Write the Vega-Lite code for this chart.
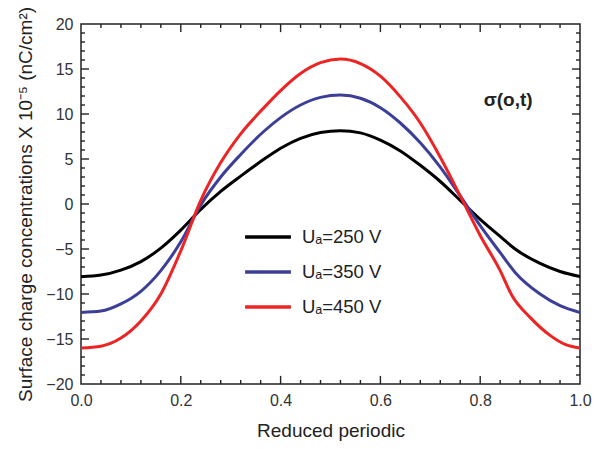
{
  "$schema": "https://vega.github.io/schema/vega-lite/v6.json",
  "width": 499,
  "height": 360,
  "autosize": {"type": "none"},
  "padding": {"left": 81, "top": 24, "right": 20, "bottom": 65},
  "background": "white",
  "config": {
    "font": "Liberation Sans",
    "view": {"stroke": "#222", "strokeWidth": 1.5},
    "axis": {"domain": false, "grid": false, "labelFont": "Liberation Sans", "titleFont": "Liberation Sans"}
  },
  "datasets": {
    "curves": [
      {"x": 0.00, "y": -8.07, "s": "Uₐ=250 V"},
      {"x": 0.04, "y": -7.9, "s": "Uₐ=250 V"},
      {"x": 0.08, "y": -7.35, "s": "Uₐ=250 V"},
      {"x": 0.12, "y": -6.4, "s": "Uₐ=250 V"},
      {"x": 0.16, "y": -4.9, "s": "Uₐ=250 V"},
      {"x": 0.20, "y": -2.9, "s": "Uₐ=250 V"},
      {"x": 0.24, "y": -0.6, "s": "Uₐ=250 V"},
      {"x": 0.28, "y": 1.4, "s": "Uₐ=250 V"},
      {"x": 0.32, "y": 3.1, "s": "Uₐ=250 V"},
      {"x": 0.37, "y": 5.1, "s": "Uₐ=250 V"},
      {"x": 0.40, "y": 6.2, "s": "Uₐ=250 V"},
      {"x": 0.44, "y": 7.3, "s": "Uₐ=250 V"},
      {"x": 0.48, "y": 7.95, "s": "Uₐ=250 V"},
      {"x": 0.52, "y": 8.15, "s": "Uₐ=250 V"},
      {"x": 0.56, "y": 7.9, "s": "Uₐ=250 V"},
      {"x": 0.60, "y": 7.1, "s": "Uₐ=250 V"},
      {"x": 0.64, "y": 5.9, "s": "Uₐ=250 V"},
      {"x": 0.68, "y": 4.3, "s": "Uₐ=250 V"},
      {"x": 0.72, "y": 2.5, "s": "Uₐ=250 V"},
      {"x": 0.76, "y": 0.4, "s": "Uₐ=250 V"},
      {"x": 0.80, "y": -1.7, "s": "Uₐ=250 V"},
      {"x": 0.84, "y": -3.6, "s": "Uₐ=250 V"},
      {"x": 0.87, "y": -5.0, "s": "Uₐ=250 V"},
      {"x": 0.92, "y": -6.6, "s": "Uₐ=250 V"},
      {"x": 0.96, "y": -7.5, "s": "Uₐ=250 V"},
      {"x": 1.00, "y": -8.05, "s": "Uₐ=250 V"},

      {"x": 0.00, "y": -12.05, "s": "Uₐ=350 V"},
      {"x": 0.04, "y": -11.9, "s": "Uₐ=350 V"},
      {"x": 0.08, "y": -11.1, "s": "Uₐ=350 V"},
      {"x": 0.12, "y": -9.7, "s": "Uₐ=350 V"},
      {"x": 0.16, "y": -7.4, "s": "Uₐ=350 V"},
      {"x": 0.20, "y": -4.2, "s": "Uₐ=350 V"},
      {"x": 0.24, "y": -0.1, "s": "Uₐ=350 V"},
      {"x": 0.28, "y": 3.0, "s": "Uₐ=350 V"},
      {"x": 0.32, "y": 5.5, "s": "Uₐ=350 V"},
      {"x": 0.365, "y": 8.0, "s": "Uₐ=350 V"},
      {"x": 0.40, "y": 9.6, "s": "Uₐ=350 V"},
      {"x": 0.44, "y": 11.0, "s": "Uₐ=350 V"},
      {"x": 0.48, "y": 11.85, "s": "Uₐ=350 V"},
      {"x": 0.52, "y": 12.1, "s": "Uₐ=350 V"},
      {"x": 0.56, "y": 11.75, "s": "Uₐ=350 V"},
      {"x": 0.60, "y": 10.7, "s": "Uₐ=350 V"},
      {"x": 0.64, "y": 9.0, "s": "Uₐ=350 V"},
      {"x": 0.68, "y": 6.8, "s": "Uₐ=350 V"},
      {"x": 0.72, "y": 4.1, "s": "Uₐ=350 V"},
      {"x": 0.76, "y": 0.9, "s": "Uₐ=350 V"},
      {"x": 0.80, "y": -2.4, "s": "Uₐ=350 V"},
      {"x": 0.84, "y": -5.4, "s": "Uₐ=350 V"},
      {"x": 0.87, "y": -7.6, "s": "Uₐ=350 V"},
      {"x": 0.92, "y": -10.0, "s": "Uₐ=350 V"},
      {"x": 0.96, "y": -11.3, "s": "Uₐ=350 V"},
      {"x": 1.00, "y": -12.05, "s": "Uₐ=350 V"},

      {"x": 0.00, "y": -16.0, "s": "Uₐ=450 V"},
      {"x": 0.04, "y": -15.8, "s": "Uₐ=450 V"},
      {"x": 0.08, "y": -14.9, "s": "Uₐ=450 V"},
      {"x": 0.12, "y": -13.0, "s": "Uₐ=450 V"},
      {"x": 0.16, "y": -10.0, "s": "Uₐ=450 V"},
      {"x": 0.20, "y": -5.2, "s": "Uₐ=450 V"},
      {"x": 0.24, "y": 0.4, "s": "Uₐ=450 V"},
      {"x": 0.28, "y": 4.6, "s": "Uₐ=450 V"},
      {"x": 0.32, "y": 7.8, "s": "Uₐ=450 V"},
      {"x": 0.365, "y": 10.6, "s": "Uₐ=450 V"},
      {"x": 0.40, "y": 12.6, "s": "Uₐ=450 V"},
      {"x": 0.44, "y": 14.5, "s": "Uₐ=450 V"},
      {"x": 0.48, "y": 15.7, "s": "Uₐ=450 V"},
      {"x": 0.52, "y": 16.1, "s": "Uₐ=450 V"},
      {"x": 0.56, "y": 15.6, "s": "Uₐ=450 V"},
      {"x": 0.60, "y": 14.2, "s": "Uₐ=450 V"},
      {"x": 0.64, "y": 11.9, "s": "Uₐ=450 V"},
      {"x": 0.68, "y": 9.0, "s": "Uₐ=450 V"},
      {"x": 0.72, "y": 5.2, "s": "Uₐ=450 V"},
      {"x": 0.76, "y": 0.9, "s": "Uₐ=450 V"},
      {"x": 0.80, "y": -3.5, "s": "Uₐ=450 V"},
      {"x": 0.84, "y": -7.4, "s": "Uₐ=450 V"},
      {"x": 0.863, "y": -10.1, "s": "Uₐ=450 V"},
      {"x": 0.90, "y": -12.6, "s": "Uₐ=450 V"},
      {"x": 0.94, "y": -14.6, "s": "Uₐ=450 V"},
      {"x": 0.97, "y": -15.6, "s": "Uₐ=450 V"},
      {"x": 1.00, "y": -16.0, "s": "Uₐ=450 V"}
    ],
    "xmajor": [{"v": 0.2}, {"v": 0.4}, {"v": 0.6}, {"v": 0.8}],
    "xminor": [{"v": 0.04}, {"v": 0.08}, {"v": 0.12}, {"v": 0.16}, {"v": 0.24}, {"v": 0.28}, {"v": 0.32}, {"v": 0.36}, {"v": 0.44}, {"v": 0.48}, {"v": 0.52}, {"v": 0.56}, {"v": 0.64}, {"v": 0.68}, {"v": 0.72}, {"v": 0.76}, {"v": 0.84}, {"v": 0.88}, {"v": 0.92}, {"v": 0.96}],
    "ymajor": [{"v": -15}, {"v": -10}, {"v": -5}, {"v": 0}, {"v": 5}, {"v": 10}, {"v": 15}],
    "yminor": [{"v": -19}, {"v": -18}, {"v": -17}, {"v": -16}, {"v": -14}, {"v": -13}, {"v": -12}, {"v": -11}, {"v": -9}, {"v": -8}, {"v": -7}, {"v": -6}, {"v": -4}, {"v": -3}, {"v": -2}, {"v": -1}, {"v": 1}, {"v": 2}, {"v": 3}, {"v": 4}, {"v": 6}, {"v": 7}, {"v": 8}, {"v": 9}, {"v": 11}, {"v": 12}, {"v": 13}, {"v": 14}, {"v": 16}, {"v": 17}, {"v": 18}, {"v": 19}],
    "note": [{"x": 0.856, "y": 11.6, "label": "σ(o,t)"}]
  },
  "resolve": {"axis": {"x": "independent", "y": "independent"}},
  "layer": [
    {
      "data": {"name": "xmajor"},
      "mark": {"type": "rule", "color": "#222", "strokeWidth": 1.4},
      "encoding": {"x": {"field": "v", "type": "quantitative", "axis": null}, "y": {"datum": -20, "type": "quantitative", "axis": null}, "y2": {"datum": -19.1}}
    },
    {
      "data": {"name": "xmajor"},
      "mark": {"type": "rule", "color": "#222", "strokeWidth": 1.4},
      "encoding": {"x": {"field": "v", "type": "quantitative", "axis": null}, "y": {"datum": 20, "type": "quantitative", "axis": null}, "y2": {"datum": 19.1}}
    },
    {
      "data": {"name": "xminor"},
      "mark": {"type": "rule", "color": "#222", "strokeWidth": 1.4},
      "encoding": {"x": {"field": "v", "type": "quantitative", "axis": null}, "y": {"datum": -20, "type": "quantitative", "axis": null}, "y2": {"datum": -19.55}}
    },
    {
      "data": {"name": "xminor"},
      "mark": {"type": "rule", "color": "#222", "strokeWidth": 1.4},
      "encoding": {"x": {"field": "v", "type": "quantitative", "axis": null}, "y": {"datum": 20, "type": "quantitative", "axis": null}, "y2": {"datum": 19.55}}
    },
    {
      "data": {"name": "ymajor"},
      "mark": {"type": "rule", "color": "#222", "strokeWidth": 1.4},
      "encoding": {"y": {"field": "v", "type": "quantitative", "axis": null}, "x": {"datum": 0, "type": "quantitative", "axis": null}, "x2": {"datum": 0.016}}
    },
    {
      "data": {"name": "ymajor"},
      "mark": {"type": "rule", "color": "#222", "strokeWidth": 1.4},
      "encoding": {"y": {"field": "v", "type": "quantitative", "axis": null}, "x": {"datum": 1, "type": "quantitative", "axis": null}, "x2": {"datum": 0.984}}
    },
    {
      "data": {"name": "yminor"},
      "mark": {"type": "rule", "color": "#222", "strokeWidth": 1.4},
      "encoding": {"y": {"field": "v", "type": "quantitative", "axis": null}, "x": {"datum": 0, "type": "quantitative", "axis": null}, "x2": {"datum": 0.008}}
    },
    {
      "data": {"name": "yminor"},
      "mark": {"type": "rule", "color": "#222", "strokeWidth": 1.4},
      "encoding": {"y": {"field": "v", "type": "quantitative", "axis": null}, "x": {"datum": 1, "type": "quantitative", "axis": null}, "x2": {"datum": 0.992}}
    },
    {
      "data": {"name": "curves"},
      "mark": {"type": "line", "strokeWidth": 3, "interpolate": "monotone", "clip": true},
      "encoding": {
        "x": {"field": "x", "type": "quantitative", "scale": {"domain": [0, 1], "nice": false, "zero": false},
          "axis": {"orient": "bottom", "values": [0, 0.2, 0.4, 0.6, 0.8, 1.0], "format": ".1f", "ticks": false, "labelFlush": false, "labelPadding": 8, "labelFontSize": 16, "labelColor": "#333", "title": "Reduced periodic", "titleFontSize": 19, "titleFontWeight": "normal", "titleColor": "#222", "titlePadding": 13}},
        "y": {"field": "y", "type": "quantitative", "scale": {"domain": [-20, 20], "nice": false, "zero": false},
          "axis": {"orient": "left", "values": [-20, -15, -10, -5, 0, 5, 10, 15, 20], "ticks": false, "labelFlush": false, "labelPadding": 8, "labelFontSize": 16, "labelColor": "#333", "title": "Surface charge concentrations X 10⁻⁵ (nC/cm²)", "titleFontSize": 19, "titleFontWeight": "normal", "titleColor": "#222", "titlePadding": 10}},
        "color": {"field": "s", "type": "nominal",
          "scale": {"domain": ["Uₐ=250 V", "Uₐ=350 V", "Uₐ=450 V"], "range": ["#000000", "#3c3f98", "#ee2424"]},
          "legend": {"orient": "none", "legendX": 162, "legendY": 188, "title": null, "symbolType": "stroke", "symbolSize": 2100, "symbolStrokeWidth": 3.5, "labelFontSize": 18.5, "labelColor": "#222", "labelFont": "Liberation Sans", "rowPadding": -3, "labelOffset": 9}}
      }
    },
    {
      "data": {"name": "note"},
      "mark": {"type": "text", "fontSize": 19, "fontWeight": "bold", "color": "#222", "font": "Liberation Sans"},
      "encoding": {
        "x": {"field": "x", "type": "quantitative", "axis": null},
        "y": {"field": "y", "type": "quantitative", "axis": null},
        "text": {"field": "label"}
      }
    }
  ]
}
